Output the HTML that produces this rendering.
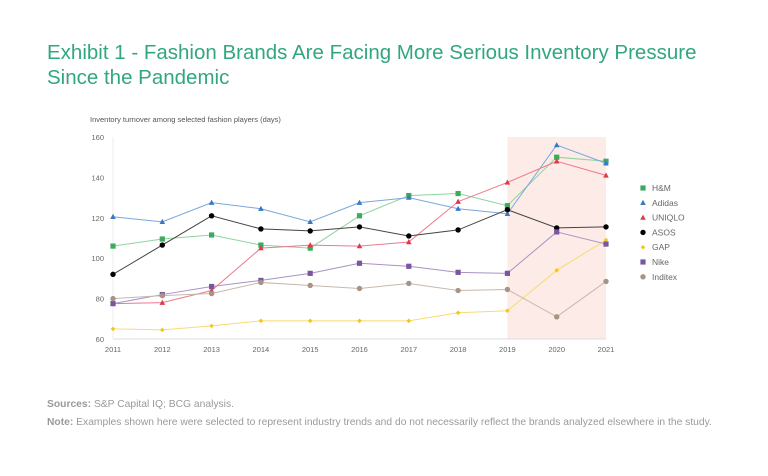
<!DOCTYPE html>
<html><head><meta charset="utf-8"><style>
body{margin:0;width:768px;height:476px;background:#fff;font-family:"Liberation Sans",sans-serif;overflow:hidden;position:relative}
.title{position:absolute;left:47px;top:40px;color:#32a77f;font-size:20.5px;line-height:25px}
.note{position:absolute;left:47px;font-size:10.3px;color:#9a9a9a}
.note b{font-weight:bold}
</style></head><body>
<div class="title">Exhibit 1 - Fashion Brands Are Facing More Serious Inventory Pressure<br>Since the Pandemic</div>
<svg id="chart" width="768" height="476" style="position:absolute;left:0;top:0"></svg>
<div class="note" style="top:399px"><b>Sources:</b> S&amp;P Capital IQ; BCG analysis.</div>
<div class="note" style="top:417px"><b>Note:</b> Examples shown here were selected to represent industry trends and do not necessarily reflect the brands analyzed elsewhere in the study.</div>
<script>
const years=[2011,2012,2013,2014,2015,2016,2017,2018,2019,2020,2021];
const yTicks=[60,80,100,120,140,160];
const hm=[106,109.5,111.5,106.5,105,121,131,132,126,150,148];
const adidas=[120.5,118,127.5,124.5,118,127.5,130,124.5,122,156,147];
const uniqlo=[77.5,78,84,105,106.5,106,108,128,137.5,148,141];
const asos=[92,106.5,121,114.5,113.5,115.5,111,114,124,115,115.5];
const gap=[65,64.5,66.5,69,69,69,69,73,74,94,109];
const nike=[77.5,82,86,89,92.5,97.5,96,93,92.5,113,107];
const inditex=[80,81.5,82.5,88,86.5,85,87.5,84,84.5,71,88.5];
const names=["H&M","Adidas","UNIQLO","ASOS","GAP","Nike","Inditex"];
const series=[hm,adidas,uniqlo,asos,gap,nike,inditex];
const colors=["#3daa5c","#3a78c4","#e03a4a","#000000","#f5c518","#7a55a0","#a89484"];
const lineColors=["#8ed3a0","#7aa6dc","#ee7a8a","#444444","#f8dc70","#a993c4","#c8b8ac"];
const shapes=["sq","tri","tri","circ","dia","sq","circ"];
const NS="http://www.w3.org/2000/svg";
const svg=document.getElementById('chart');
const x0=113,x1=606,yTop=137,yBot=339;
const xs=i=>x0+(x1-x0)*(i)/(years.length-1);
const ys=v=>yBot-(v-60)/(100)*(yBot-yTop);
function mk(t,a){const e=document.createElementNS(NS,t);for(const k in a)e.setAttribute(k,a[k]);svg.appendChild(e);return e;}
let t=mk('text',{x:90,y:122,'font-size':7.5,fill:'#555'});t.textContent='Inventory turnover among selected fashion players (days)';


const sh=mk('rect',{x:xs(8),y:yTop,width:xs(10)-xs(8),height:yBot-yTop,fill:'#fcebe7'});


let ax=mk('line',{x1:x0,x2:x1,y1:yBot,y2:yBot,stroke:'#ddd'});


let ay=mk('line',{x1:x0,x2:x0,y1:yTop,y2:yBot,stroke:'#eee'});


yTicks.forEach(v=>{const e=mk('text',{x:104,y:ys(v)+3,'font-size':7.5,fill:'#666','text-anchor':'end'});e.textContent=v;

});
years.forEach((y,i)=>{const e=mk('text',{x:xs(i),y:352,'font-size':7.5,fill:'#666','text-anchor':'middle'});e.textContent=y;

});
function marker(s,cx,cy,c){let e;
if(s==='sq')e=mk('rect',{x:cx-2.6,y:cy-2.6,width:5.2,height:5.2,fill:c});
else if(s==='tri')e=mk('polygon',{points:`${cx},${cy-3} ${cx+2.8},${cy+2.2} ${cx-2.8},${cy+2.2}`,fill:c});
else if(s==='circ')e=mk('circle',{cx:cx,cy:cy,r:2.7,fill:c});
else e=mk('polygon',{points:`${cx},${cy-2.3} ${cx+2.3},${cy} ${cx},${cy+2.3} ${cx-2.3},${cy}`,fill:c});
return e;}
series.forEach((d,k)=>{
 const p=mk('polyline',{points:d.map((v,i)=>xs(i)+','+ys(v)).join(' '),fill:'none',stroke:lineColors[k],'stroke-width':1});
 
 
 d.forEach((v,i)=>{const m=marker(shapes[k],xs(i),ys(v),colors[k]);
 
 });
 const ly=188+k*14.8;
 const lm=marker(shapes[k],643,ly,colors[k]);
 
 
 const lt=mk('text',{x:652,y:ly+3,'font-size':8.5,fill:'#666'});lt.textContent=names[k];
 
 
});
</script>
</body></html>
